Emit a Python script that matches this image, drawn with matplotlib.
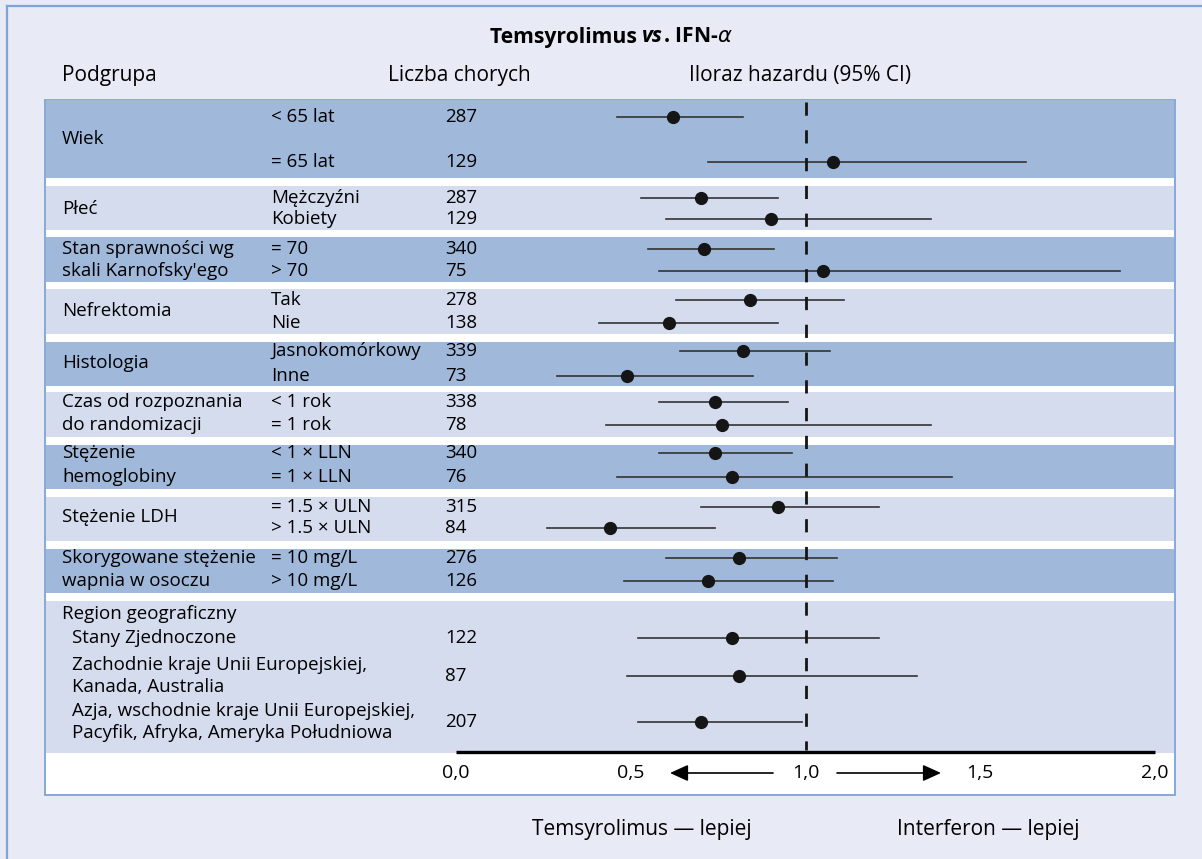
import matplotlib
matplotlib.use("Agg")
import matplotlib.pyplot as plt
from matplotlib.patches import Rectangle
from matplotlib.lines import Line2D

plt.rcParams['font.family'] = ['Open Sans', 'DejaVu Sans']
plt.rcParams['lines.scale_dashes'] = False

# ---------------- dane ----------------
groups = ["Wiek", "Płeć", "Stan sprawności wg\nskali Karnofsky'ego", "Nefrektomia",
          "Histologia", "Czas od rozpoznania\ndo randomizacji", "Stężenie\nhemoglobiny",
          "Stężenie LDH", "Skorygowane stężenie\nwapnia w osoczu", "Region geograficzny"]
group_sizes = [2, 2, 2, 2, 2, 2, 2, 2, 2, 3]
subgroups = ["< 65 lat", "= 65 lat", "Mężczyźni", "Kobiety", "= 70", "> 70", "Tak", "Nie",
             "Jasnokomórkowy", "Inne", "< 1 rok", "= 1 rok", "< 1 × LLN", "= 1 × LLN",
             "= 1.5 × ULN", "> 1.5 × ULN", "= 10 mg/L", "> 10 mg/L",
             "Stany Zjednoczone",
             "Zachodnie kraje Unii Europejskiej,\nKanada, Australia",
             "Azja, wschodnie kraje Unii Europejskiej,\nPacyfik, Afryka, Ameryka Południowa"]
counts = [287, 129, 287, 129, 340, 75, 278, 138, 339, 73, 338, 78, 340, 76, 315, 84, 276, 126,
          122, 87, 207]
hr = [0.62, 1.08, 0.70, 0.90, 0.71, 1.05, 0.84, 0.61, 0.82, 0.49, 0.74, 0.76, 0.74, 0.79,
      0.92, 0.44, 0.81, 0.72, 0.79, 0.81, 0.70]
ci_lo = [0.46, 0.72, 0.53, 0.60, 0.55, 0.58, 0.63, 0.41, 0.64, 0.29, 0.58, 0.43, 0.58, 0.46,
         0.70, 0.26, 0.60, 0.48, 0.52, 0.49, 0.52]
ci_hi = [0.82, 1.63, 0.92, 1.36, 0.91, 1.90, 1.11, 0.92, 1.07, 0.85, 0.95, 1.36, 0.96, 1.42,
         1.21, 0.74, 1.09, 1.08, 1.21, 1.32, 0.99]
xticks = [0.0, 0.5, 1.0, 1.5, 2.0]
xtick_labels = ["0,0", "0,5", "1,0", "1,5", "2,0"]

# ---------------- uklad (piksele) ----------------
W, H = 1202, 859
X0, UNIT = 456, 349.5           # HR=0 -> piksel 456, 1 jednostka = 349.5 px
bands = [(100, 178), (186, 230), (237, 282), (289, 334), (342, 386), (392, 437),
         (445, 489), (497, 541), (549, 593), (601, 753)]
row_y = [117, 162, 198, 219, 249, 271, 300, 323, 351, 376, 402, 425, 453, 477, 507, 528,
         558, 581, 638, 676, 722]
dark, light = '#a0b8da', '#d5dcee'
bg, border = '#e8eaf5', '#7fa3d3'
fs = 13.5      # tekst tabeli
fs_head = 15   # naglowki


def hx(px):
    return (px - X0) / UNIT


fig = plt.figure(figsize=(W / 100, H / 100), dpi=100)
fig.patch.set_facecolor(bg)
ax = fig.add_axes([0, 0, 1, 1])
ax.set_xlim(hx(0), hx(W))
ax.set_ylim(H, 0)
ax.axis('off')

# ramka zewnetrzna (gora, lewa)
fig.add_artist(Line2D([7 / W, 1], [1 - 6 / H, 1 - 6 / H], color=border, lw=1.6))
fig.add_artist(Line2D([7 / W, 7 / W], [0, 1 - 6 / H], color=border, lw=1.6))

# panel
ax.add_patch(Rectangle((hx(45), 100), (1175 - 45) / UNIT, 695, facecolor='white',
                       edgecolor=border, lw=1.3, zorder=0))
for i, (t, b) in enumerate(bands):
    ax.add_patch(Rectangle((hx(46), t), (1174 - 46) / UNIT, b - t,
                           facecolor=dark if i % 2 == 0 else light, lw=0, zorder=1))

# naglowki
fs_title = 15.2
t1 = ax.text(hx(490), 37, "Temsyrolimus ", fontsize=fs_title, weight='bold', va='center',
             ha='left')
t2 = ax.annotate("vs", xy=(1, 0), xycoords=t1, va='bottom', ha='left', fontsize=fs_title,
                 weight='bold', style='italic')
ax.annotate(r". IFN-$\alpha$", xy=(1, 0), xycoords=t2, va='bottom', ha='left',
            fontsize=fs_title, weight='bold')
ax.text(hx(62), 76, "Podgrupa", fontsize=fs_head, va='center')
ax.text(hx(388), 76, "Liczba chorych", fontsize=fs_head, va='center')
ax.text(hx(689), 76, "Iloraz hazardu (95% CI)", fontsize=fs_head, va='center')

# etykiety grup
k = 0
for g, n in zip(groups, group_sizes):
    ys = row_y[k:k + n]
    if g == "Region geograficzny":
        ax.text(hx(62), 614, g, fontsize=fs, va='center', zorder=3)
    elif "\n" in g:
        for line, y in zip(g.split("\n"), ys):
            ax.text(hx(62), y, line, fontsize=fs, va='center', zorder=3)
    else:
        ax.text(hx(62), sum(ys) / n, g, fontsize=fs, va='center', zorder=3)
    k += n

# podgrupy, liczebnosci
n_region = group_sizes[-1]
for i, (s, c, y) in enumerate(zip(subgroups, counts, row_y)):
    region = i >= len(subgroups) - n_region
    xs = hx(72) if region else hx(271)
    if "\n" in s:
        for j, line in enumerate(s.split("\n")):
            ax.text(xs, y - 11 + 22 * j, line, fontsize=fs, va='center', zorder=3)
    else:
        ax.text(xs, y, s, fontsize=fs, va='center', zorder=3)
    ax.text(hx(445), y, str(c), fontsize=fs, va='center', zorder=3)

# przedzialy ufnosci i punkty
for y, h, lo, hi in zip(row_y, hr, ci_lo, ci_hi):
    ax.plot([lo, hi], [y, y], color='#333333', lw=1.2, zorder=4)
    ax.plot(h, y, 'o', color='#151515', ms=8.5, zorder=6)

# linia odniesienia
ax.plot([1.0, 1.0], [102, 750], color='#151515', lw=2.0, dashes=(9.5, 10.5), zorder=5)

# os x
ax.plot([xticks[0], xticks[-1]], [752, 752], color='black', lw=2.4, solid_capstyle='butt',
        zorder=5)
for xt, lab in zip(xticks, xtick_labels):
    ax.text(xt, 773, lab, fontsize=14, ha='center', va='center')
arr = dict(arrowstyle='-|>,head_length=0.55,head_width=0.25', color='black', lw=1.2,
           mutation_scale=20, shrinkA=0, shrinkB=0)
ax.annotate('', xy=(hx(670), 773), xytext=(hx(773), 773), arrowprops=arr)
ax.annotate('', xy=(hx(941), 773), xytext=(hx(837), 773), arrowprops=arr)

ax.text(hx(642), 830, "Temsyrolimus — lepiej", fontsize=fs_head, ha='center', va='center')
ax.text(hx(988), 830, "Interferon — lepiej", fontsize=fs_head, ha='center', va='center')

fig.savefig("out.png", dpi=100, facecolor=fig.get_facecolor())
